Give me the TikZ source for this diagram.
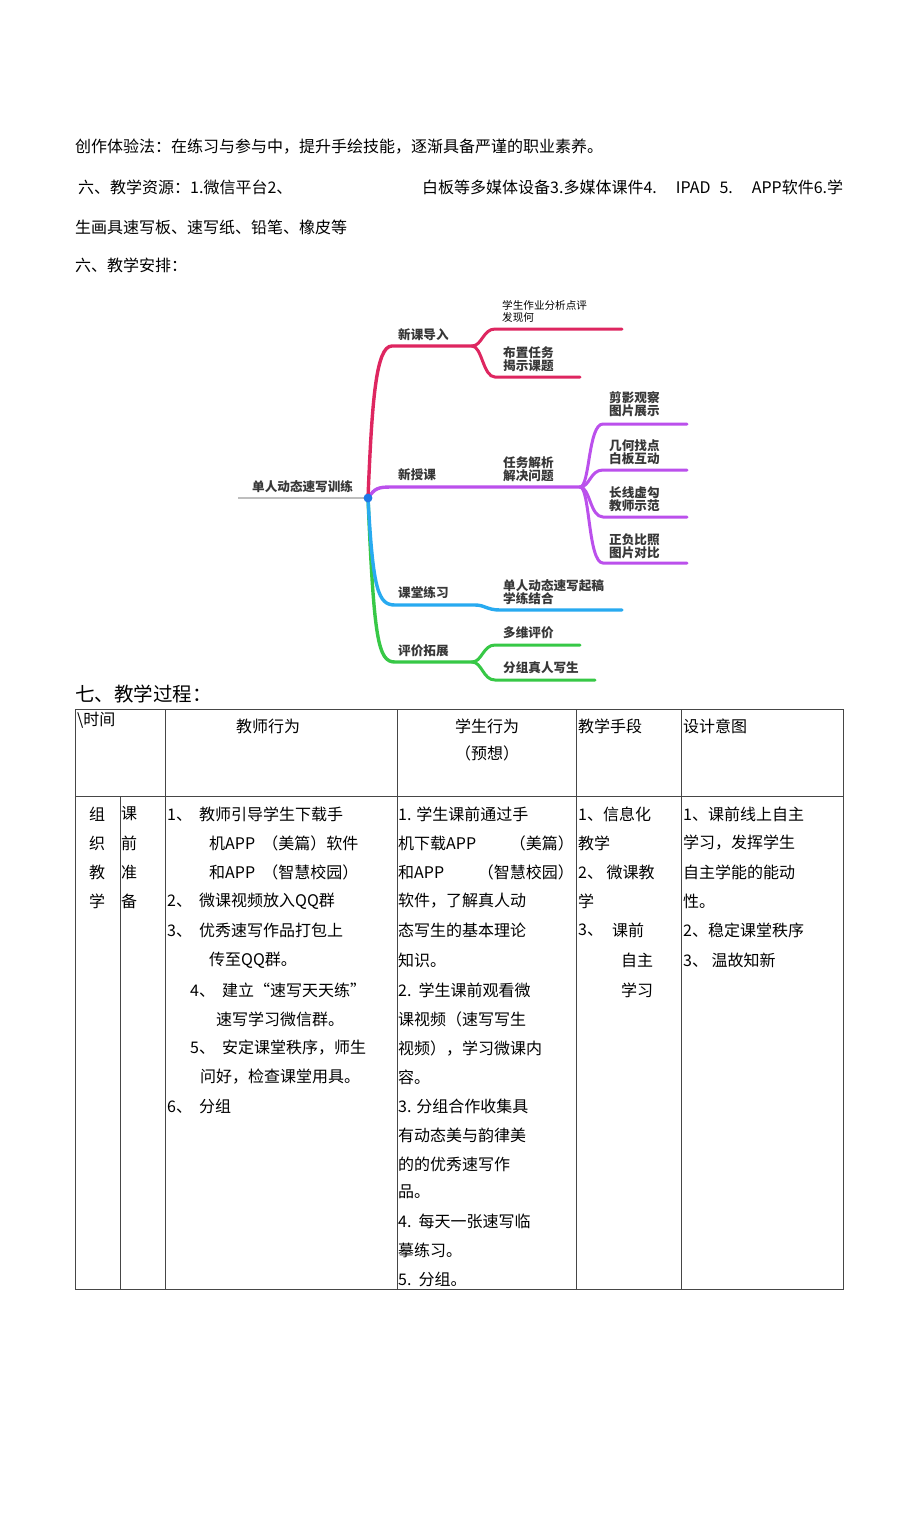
\documentclass[tikz,border=0pt]{standalone}
\usepackage{fontspec}
\setmainfont{Noto Sans CJK SC}
\definecolor{cred}{RGB}{222,38,96}
\definecolor{cpur}{RGB}{187,80,236}
\definecolor{ccyan}{RGB}{40,170,240}
\definecolor{cgreen}{RGB}{55,200,70}
\definecolor{cgray}{RGB}{190,190,190}
\definecolor{cdot}{RGB}{30,120,230}
\definecolor{mmtext}{RGB}{55,55,55}
\definecolor{tline}{RGB}{70,70,70}
\tikzset{
  tx/.style={inner sep=0pt,anchor=west,font=\fontsize{16}{18}\selectfont},
  txc/.style={inner sep=0pt,anchor=center,font=\fontsize{16}{18}\selectfont},
  mm/.style={inner sep=0pt,anchor=west,align=left,text=mmtext,font=\fontsize{12.6}{13}\selectfont\bfseries},
  mmthin/.style={inner sep=0pt,anchor=west,align=left,text=black,font=\fontsize{10.6}{12}\selectfont},
  br/.style={line width=3.4pt,line cap=round},
  sub/.style={line width=3pt,line cap=round},
  grid/.style={draw=tline,line width=0.9pt}
}
\begin{document}
\begin{tikzpicture}[x=1pt,y=-1pt]
\useasboundingbox[fill=white] (0,0) rectangle (920,1516);

% ---- top text ----
\node[tx] (p1) at (75,147) {创作体验法：在练习与参与中，提升手绘技能，逐渐具备严谨的职业素养。};
\node[tx] (p2a) at (78,187) {六、教学资源：1.微信平台2、};
\node[tx] (p2b) at (422,187) {白板等多媒体设备3.多媒体课件4.\hspace{19pt}IPAD\hspace{9pt}5.\hspace{19pt}APP软件6.学};
\node[tx] (p3) at (75,227) {生画具速写板、速写纸、铅笔、橡皮等};
\node[tx] (p4) at (75,265) {六、教学安排：};

% ---- mind map ----
\coordinate (rootL) at (238,498);
\coordinate (root) at (368,498);
\coordinate (rA) at (392,346);
\coordinate (rJ) at (472,346);
\coordinate (rJ1) at (495,329);
\coordinate (rE1) at (622,329);
\coordinate (rJ2) at (495,377);
\coordinate (rE2) at (580,377);
\coordinate (pA) at (392,487);
\coordinate (pJ) at (580,487);
\coordinate (pE1) at (687,424);
\coordinate (pE2) at (687,470);
\coordinate (pE3) at (687,517);
\coordinate (pE4) at (687,563);
\coordinate (cA) at (395,605);
\coordinate (cB) at (475,605);
\coordinate (cC) at (500,610);
\coordinate (cE) at (622,610);
\coordinate (gA) at (395,662);
\coordinate (gJ) at (472,662);
\coordinate (gJ1) at (495,645);
\coordinate (gE1) at (580,645);
\coordinate (gJ2) at (495,680);
\coordinate (gE2) at (595,680);

\draw[line width=2.4pt,cgray] (rootL) -- (root);
% green
\draw[br,cgreen] (root) .. controls (374,640) and (378,662) .. (gA) -- (gJ);
\draw[sub,cgreen] (gJ) .. controls (482,662) and (483,645) .. (gJ1) -- (gE1);
\draw[sub,cgreen] (gJ) .. controls (482,662) and (483,680) .. (gJ2) -- (gE2);
% cyan
\draw[br,ccyan] (root) .. controls (373,590) and (378,605) .. (cA) -- (cB) .. controls (485,605) and (487,610) .. (cC) -- (cE);
% purple
\draw[br,cpur] (root) .. controls (375,488) and (378,487) .. (pA) -- (pJ);
\draw[sub,cpur] (pJ) .. controls (590,487) and (588,424) .. (603,424) -- (pE1);
\draw[sub,cpur] (pJ) .. controls (590,487) and (590,470) .. (603,470) -- (pE2);
\draw[sub,cpur] (pJ) .. controls (590,487) and (590,517) .. (603,517) -- (pE3);
\draw[sub,cpur] (pJ) .. controls (590,487) and (588,563) .. (603,563) -- (pE4);
% red
\draw[br,cred] (root) .. controls (372,400) and (376,346) .. (rA) -- (rJ);
\draw[sub,cred] (rJ) .. controls (482,346) and (483,329) .. (rJ1) -- (rE1);
\draw[sub,cred] (rJ) .. controls (482,346) and (483,377) .. (rJ2) -- (rE2);
\fill[cdot] (root) circle (4.4);

\node[mm] (mroot) at (252,487) {单人动态速写训练};
\node[mm] (m1) at (398,335) {新课导入};
\node[mm] (m2) at (398,475) {新授课};
\node[mm] (m3) at (398,593) {课堂练习};
\node[mm] (m4) at (398,651) {评价拓展};
\node[mmthin] (m11) at (502,311) {学生作业分析点评\\发现何};
\node[mm] (m12) at (503,359) {布置任务\\揭示课题};
\node[mm] (m21) at (503,469) {任务解析\\解决问题};
\node[mm] (m211) at (609,404.5) {剪影观察\\图片展示};
\node[mm] (m212) at (609,452) {几何找点\\白板互动};
\node[mm] (m213) at (609,499) {长线虚勾\\教师示范};
\node[mm] (m214) at (609,546) {正负比照\\图片对比};
\node[mm] (m31) at (503,592.5) {单人动态速写起稿\\学练结合};
\node[mm] (m41) at (503,633) {多维评价};
\node[mm] (m42) at (503,668) {分组真人写生};

% ---- table ----
\node[inner sep=0pt,anchor=west,font=\fontsize{19.5}{21}\selectfont] (title) at (75,694) {七、教学过程：};
\draw[grid] (75,709) rectangle (843,1289);
\draw[grid] (75,796) -- (843,796);
\foreach \x in {165,397,576,681} \draw[grid] (\x,709) -- (\x,1289);
\draw[grid] (120,796) -- (120,1289);

\node[tx] (h1) at (77,720) {\textbackslash 时间};
\node[txc] (h2) at (268,726) {教师行为};
\node[txc] (h3) at (487,726) {学生行为};
\node[txc] (h3b) at (487,753) {（预想）};
\node[tx] (h4) at (578,726) {教学手段};
\node[tx] (h5) at (683,726) {设计意图};

% col1, col2
\node[txc] (c1a) at (97,814) {组};
\node[txc] (c1b) at (97,843) {织};
\node[txc] (c1c) at (97,872) {教};
\node[txc] (c1d) at (97,901) {学};
\node[txc] (c2a) at (129,814) {课};
\node[txc] (c2b) at (129,843) {前};
\node[txc] (c2c) at (129,872) {准};
\node[txc] (c2d) at (129,901) {备};

% col3 teacher
\node[tx] (t1) at (167,814) {1、\ \ 教师引导学生下载手};
\node[tx] (t2) at (209,843) {机APP\ \ （美篇）软件};
\node[tx] (t3) at (209,872) {和APP\ \ （智慧校园）};
\node[tx] (t4) at (167,901) {2、\ \ 微课视频放入QQ群};
\node[tx] (t5) at (167,930) {3、\ \ 优秀速写作品打包上};
\node[tx] (t6) at (209,960) {传至QQ群。};
\node[tx] (t7) at (190,990) {4、\ \ 建立“速写天天练”};
\node[tx] (t8) at (216,1019) {速写学习微信群。};
\node[tx] (t9) at (190,1048) {5、\ \ 安定课堂秩序，师生};
\node[tx] (t10) at (200,1077) {问好，检查课堂用具。};
\node[tx] (t11) at (167,1106) {6、\ \ 分组};

% col4 student
\node[tx] (s1) at (398,814) {1. 学生课前通过手};
\node[tx] (s2) at (398,843) {机下载APP};
\node[inner sep=0pt,anchor=east,font=\fontsize{16}{18}\selectfont] (s2b) at (574,843) {（美篇）};
\node[tx] (s3) at (398,872) {和APP};
\node[inner sep=0pt,anchor=east,font=\fontsize{16}{18}\selectfont] (s3b) at (574,872) {（智慧校园）};
\node[tx] (s4) at (398,901) {软件，了解真人动};
\node[tx] (s5) at (398,930) {态写生的基本理论};
\node[tx] (s6) at (398,960) {知识。};
\node[tx] (s7) at (398,990) {2.\ \ 学生课前观看微};
\node[tx] (s8) at (398,1019) {课视频（速写写生};
\node[tx] (s9) at (398,1048) {视频），学习微课内};
\node[tx] (s10) at (398,1077) {容。};
\node[tx] (s11) at (398,1106) {3. 分组合作收集具};
\node[tx] (s12) at (398,1135) {有动态美与韵律美};
\node[tx] (s13) at (398,1164) {的的优秀速写作};
\node[tx] (s14) at (398,1192) {品。};
\node[tx] (s15) at (398,1221) {4.\ \ 每天一张速写临};
\node[tx] (s16) at (398,1250) {摹练习。};
\node[tx] (s17) at (398,1279) {5.\ \ 分组。};

% col5
\node[tx] (u1) at (578,814) {1、信息化};
\node[tx] (u2) at (578,843) {教学};
\node[tx] (u3) at (578,872) {2、\ 微课教};
\node[tx] (u4) at (578,901) {学};
\node[tx] (u5) at (578,930) {3、};
\node[tx] (u5b) at (612,930) {课前};
\node[tx] (u6) at (621,960) {自主};
\node[tx] (u7) at (621,990) {学习};

% col6
\node[tx] (v1) at (683,814) {1、课前线上自主};
\node[tx] (v2) at (683,843) {学习，发挥学生};
\node[tx] (v3) at (683,872) {自主学能的能动};
\node[tx] (v4) at (683,901) {性。};
\node[tx] (v5) at (683,930) {2、稳定课堂秩序};
\node[tx] (v6) at (683,960) {3、\ 温故知新};
\end{tikzpicture}
\end{document}
